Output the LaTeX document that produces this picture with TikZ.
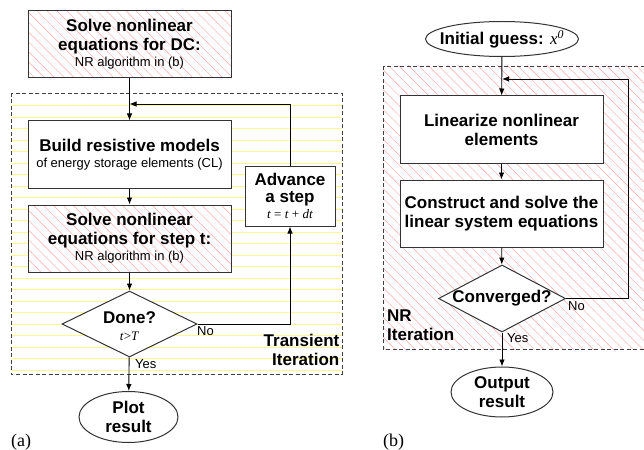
\documentclass[tikz,border=0pt]{standalone}
\usepackage{fontspec}
\setmainfont{Liberation Sans}
\newfontfamily\tms{Liberation Serif}
\usetikzlibrary{shapes.geometric,patterns.meta,arrows.meta}

\newcommand{\titletext}{\fontsize{17}{19}\selectfont\bfseries}
\newcommand{\smalltext}{\fontsize{13}{15}\selectfont\mdseries}
\newcommand{\mathtext}{\tms\fontsize{13}{15}\selectfont\mdseries}

\tikzset{
  redhatch/.style={preaction={fill=white},
    pattern={Lines[angle=-45,distance=7pt,line width=0.45pt]}, pattern color=red!35},
  yellowline/.style={draw=yellow!45, line width=0.5pt},
  region/.style={draw=black!75, line width=0.8pt, dash pattern=on 4pt off 2.5pt},
  procbox/.style={draw=black!80, line width=1pt, fill=white, rectangle,
    minimum width=203pt, minimum height=67pt, inner sep=0pt, align=center, font=\titletext},
  decision/.style={draw=black!80, line width=1pt, fill=white, diamond, inner sep=0pt},
  terminal/.style={draw=black!80, line width=1pt, fill=white, ellipse, inner sep=0pt},
  inlabel/.style={align=center, inner sep=0pt, font=\titletext},
  flow/.style={draw=black, line width=0.9pt, -{Latex[length=7pt,width=5.5pt]}},
  edgelabel/.style={font=\smalltext, inner sep=0pt},
}

\begin{document}
\begin{tikzpicture}[x=1pt,y=-1pt]
\useasboundingbox (0,0) rectangle (644,449);

% ---------- (a) transient analysis ----------
% ruled background of the transient loop
\foreach \k in {0,...,23} {
  \draw[yellowline] (11,105.5+11.5*\k) -- (342,105.5+11.5*\k);
}
\draw[region] (11,93) rectangle (342,374);

\node[procbox, redhatch] (dc) at (129.5,44.5)
  {Solve nonlinear\\ equations for DC:\\[-3pt] {\smalltext NR algorithm in (b)}};
\node[procbox] (build) at (129.5,154.5)
  {Build resistive models\\[-3pt] {\smalltext of energy storage elements (CL)}};
\node[procbox, redhatch] (step) at (129.5,238.5)
  {Solve nonlinear\\ equations for step t:\\[-3pt] {\smalltext NR algorithm in (b)}};
\node[procbox, minimum width=90pt, minimum height=60pt] (adv) at (290,196)
  {Advance\\[-2pt] a step\\[-3pt] {\mathtext\textit{t} = \textit{t} + \textit{dt}}};
\node[decision, minimum width=135pt, minimum height=66pt] (done) at (129.5,324) {};
\node[inlabel] (donetxt) at (129.5,326)
  {Done?\\[-2pt] {\mathtext\textit{t}>\textit{T}}};
\node[terminal, minimum width=99pt, minimum height=51pt] (plot) at (128.5,417) {};
\node[inlabel] (plottxt) at (128.5,417) {Plot\\ result};

\node[inlabel, anchor=north east, align=right] (tlabel) at (339.5,334)
  {Transient\\Iteration};

\coordinate (fbA) at (129.5,104);
\draw[flow] (dc) -- (build);
\draw[flow] (build) -- (step);
\draw[flow] (step) -- (done);
\draw[flow] (done) -- (plot);
\draw[flow] (done.east) -| (adv.south);
\draw[flow] (adv.north) |- (fbA);
\node[edgelabel, anchor=north west] (noA) at (197,326) {No};
\node[edgelabel, anchor=north west] (yesA) at (135,359) {Yes};
\node[anchor=base west, inner sep=0pt, font=\tms\fontsize{18}{20}\selectfont] (capA) at (11,446) {(a)};

% ---------- (b) Newton-Raphson iteration ----------
\path[redhatch] (383,66) rectangle (650,349);
\draw[region] (383,66) rectangle (650,349);

\node[terminal, minimum width=153pt, minimum height=35pt] (init) at (502,39) {};
\node[inlabel] (inittxt) at (502,39) {Initial guess: {\tms\mdseries\itshape x\textsuperscript{0}}};
\node[procbox] (lin) at (501.5,129.5) {Linearize nonlinear\\ elements};
\node[procbox] (solve) at (501.5,213.5) {Construct and solve the\\ linear system equations};
\node[decision, minimum width=127pt, minimum height=67pt] (conv) at (502,298.5) {};
\node[inlabel] (convtxt) at (502,298.5) {Converged?};
\node[terminal, minimum width=102pt, minimum height=50pt] (out) at (502,392) {};
\node[inlabel] (outtxt) at (502,392) {Output\\ result};

\node[inlabel, anchor=north west, align=left] (nrlabel) at (387,310)
  {NR\\Iteration};

\coordinate (fbB) at (502,79);
\coordinate (loopB) at (628,79);
\draw[flow] (init) -- (lin);
\draw[flow] (lin) -- (solve);
\draw[flow] (solve) -- (conv);
\draw[flow] (conv) -- (out);
\draw[flow] (conv.east) -| (loopB) -- (fbB);
\node[edgelabel, anchor=north west] (noB) at (568,301) {No};
\node[edgelabel, anchor=north west] (yesB) at (507,333) {Yes};
\node[anchor=base west, inner sep=0pt, font=\tms\fontsize{18}{20}\selectfont] (capB) at (383,446) {(b)};
\end{tikzpicture}
\end{document}
